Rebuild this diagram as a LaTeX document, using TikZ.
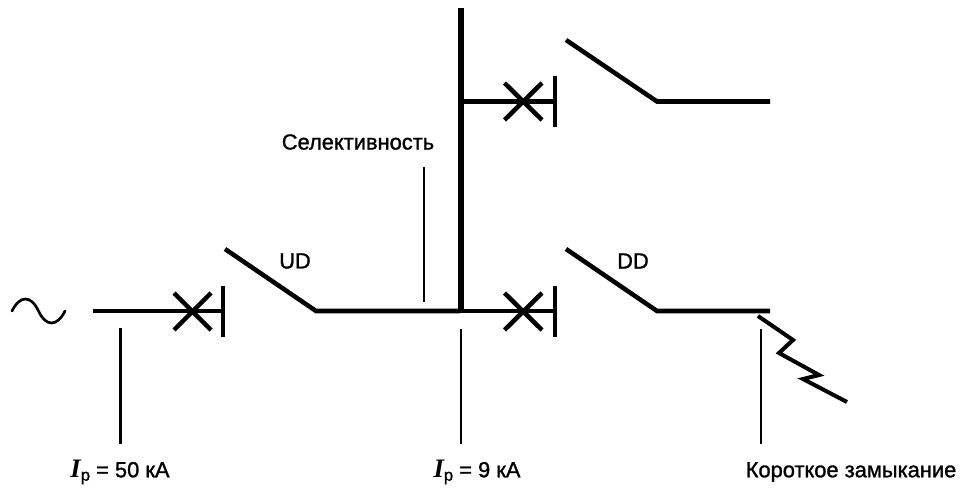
\documentclass[tikz,border=0pt]{standalone}
\usepackage{fontspec}
\setmainfont[AutoFakeBold=1.2]{Liberation Sans}
\newfontfamily\currentfont{Liberation Serif}[BoldItalicFont=* Bold Italic]
\usepackage{tikz}
\tikzset{
  heavy/.style={line width=3.4pt},
  thinline/.style={line width=2pt},
  lbl/.style={inner sep=0.75pt,font=\fontsize{16.4pt}{18pt}\selectfont\bfseries},
}
\newcommand{\Ip}{{\currentfont\bfseries\itshape\fontsize{20pt}{20pt}\selectfont I}\raisebox{-0.3ex}{\fontsize{12.5pt}{14pt}\selectfont p}}
\begin{document}
\begin{tikzpicture}[x=0.75pt,y=0.75pt,yscale=-1,xscale=1]
\useasboundingbox (0,0) rectangle (964,488);

%Source
\draw [line width=2pt,line cap=round] (12,311) .. controls (20,295) and (31,295) .. (38.5,311) .. controls (46,327) and (57,327) .. (65,311) ;

%Left branch
\draw [heavy] (93,311) -- (223,311) ;
\draw [heavy] (174,293) -- (211,330) ;
\draw [heavy] (211,293) -- (174,330) ;
\draw [heavy] (223,286) -- (223,337) ;
\draw [heavy] (225,249) -- (316,311) -- (460,311) ;

%Busbar
\draw [line width=4pt] (461,8) -- (461,313) ;

%Upper branch
\draw [heavy] (461,101.5) -- (555,101.5) ;
\draw [heavy] (504.5,83) -- (542,120) ;
\draw [heavy] (542,83) -- (504.5,120) ;
\draw [heavy] (555,76) -- (555,127) ;
\draw [heavy] (566,40) -- (657,101.5) -- (770,101.5) ;

%Lower branch
\draw [heavy] (461,311) -- (555,311) ;
\draw [heavy] (504.5,293) -- (542,330) ;
\draw [heavy] (542,293) -- (504.5,330) ;
\draw [heavy] (555,286) -- (555,337) ;
\draw [heavy] (566,249) -- (657,311) -- (770,311) ;

%Fault
\draw [line width=3pt] (758,316) -- (793,340) -- (779,353) -- (819,375) -- (803,379) -- (847,402) ;

%Leaders
\draw [thinline] (424,167) -- (424,302) ;
\draw [thinline] (120.5,328) -- (120.5,444) ;
\draw [thinline] (461,329) -- (461,444) ;
\draw [thinline] (761,329) -- (761,444) ;

% Text Node
\node (sel) [lbl,anchor=center] at (358,142) {Селективность};
% Text Node
\node (ud) [lbl,anchor=center] at (295,261) {UD};
% Text Node
\node (dd) [lbl,anchor=center] at (633,261) {DD};
% Text Node
\node (ia) [lbl,anchor=center] at (120,472) {\Ip{} = 50 кА};
% Text Node
\node (ib) [lbl,anchor=center] at (477,472) {\Ip{} = 9 кА};
% Text Node
\node (sc) [lbl,anchor=center] at (851,472) {Короткое замыкание};
\end{tikzpicture}
\end{document}
